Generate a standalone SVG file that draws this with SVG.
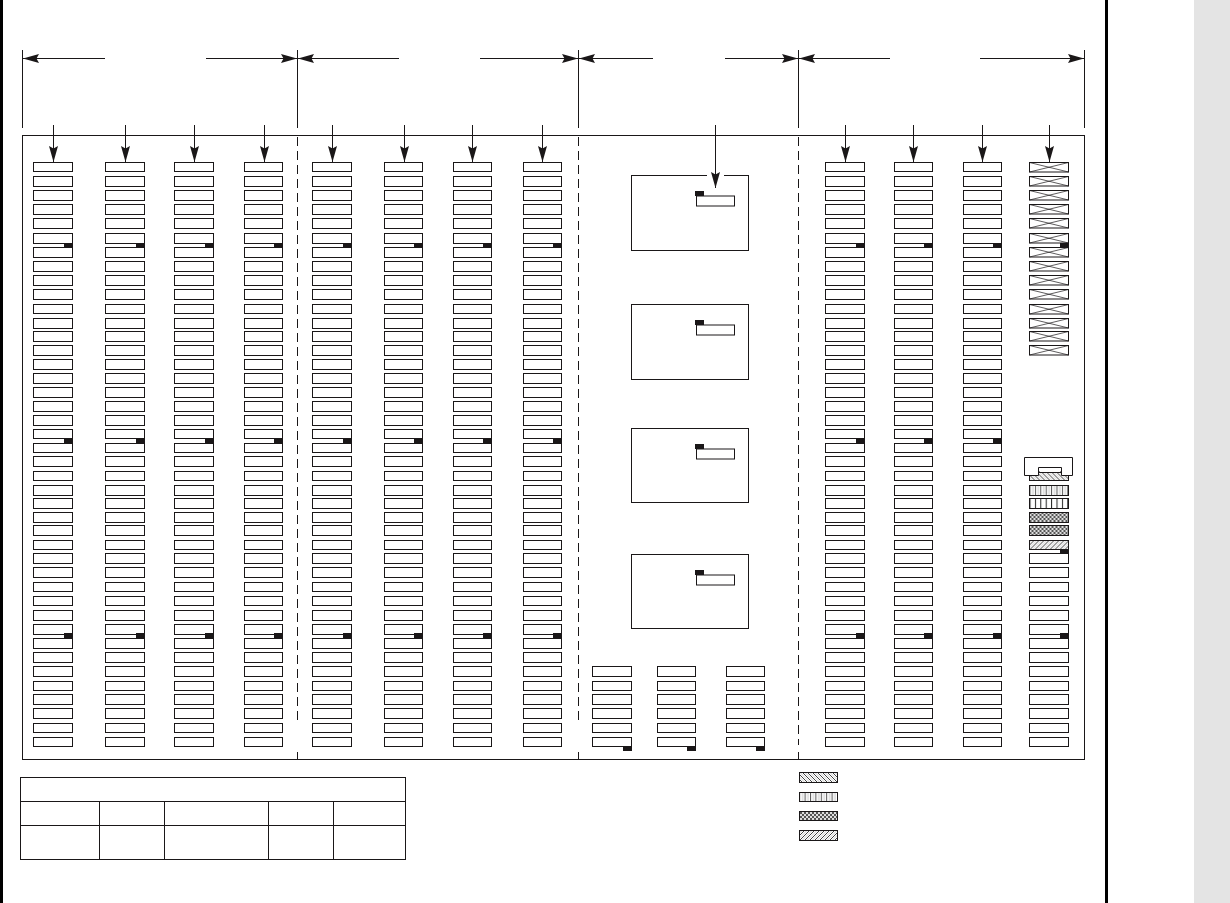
<svg xmlns="http://www.w3.org/2000/svg" width="1230" height="903" viewBox="0 0 1230 903">
<style>
.r{fill:#fff;stroke:#1a1718;stroke-width:1}
.c{width:var(--w,39px)}
.n{--w:38px}
.t{fill:#1a1718}
.b{x:calc(var(--w,39px) - 8.5px)}
.x{stroke:#1a1718;stroke-width:.7;fill:none}
.l{fill:none;stroke:#1a1718;stroke-width:1}
.d{fill:none;stroke:#1a1718;stroke-width:1;stroke-dasharray:9 5}
.a{fill:none;stroke:#1a1718;stroke-width:1;marker-end:url(#head)}
</style>
<defs>
<marker id="head" markerUnits="userSpaceOnUse" markerWidth="16" markerHeight="9" refX="16" refY="4.5" orient="auto"><path d="M0,0L16,4.5L0,9L2.5,4.5Z" fill="#1a1718"/></marker>
<pattern id="hb" width="5" height="5" patternUnits="userSpaceOnUse"><rect width="5" height="5" fill="#fff"/><path d="M-1,-1L6,6M-1,4L1,6M4,-1L6,1" stroke="#444" stroke-width="1"/><path d="M1.5,-1L6,3.5M-1,1.5L3.5,6" stroke="#bbb" stroke-width=".8"/></pattern>
<pattern id="hf" width="5" height="5" patternUnits="userSpaceOnUse"><rect width="5" height="5" fill="#fff"/><path d="M-1,6L6,-1M-1,1L1,-1M4,6L6,4" stroke="#444" stroke-width="1"/><path d="M-1,3.5L3.5,-1M1.5,6L6,1.5" stroke="#bbb" stroke-width=".8"/></pattern>
<pattern id="v1" width="5.4" height="10" patternUnits="userSpaceOnUse"><rect width="5.4" height="10" fill="#fff"/><rect x="0" width="1" height="10" fill="#555"/><rect x="2.4" width="2" height="10" fill="#e0e0e0"/></pattern>
<pattern id="v2" width="5.4" height="10" patternUnits="userSpaceOnUse"><rect width="5.4" height="10" fill="#fff"/><rect x="0" width="1" height="10" fill="#222"/></pattern>
<pattern id="c1" width="4" height="4" patternUnits="userSpaceOnUse"><rect width="4" height="4" fill="#ddd"/><rect width="2" height="2" fill="#555"/><rect x="2" y="2" width="2" height="2" fill="#555"/></pattern>
<g id="rows">
<rect class="r c" y="162.5" height="9"/><rect class="r c" y="176.5" height="10"/><rect class="r c" y="190.5" height="10"/><rect class="r c" y="204.5" height="10"/><rect class="r c" y="218.5" height="10"/><rect class="r c" y="233.5" height="10"/><rect class="r c" y="247.5" height="10"/>
<rect class="r c" y="261.5" height="10"/><rect class="r c" y="275.5" height="10"/><rect class="r c" y="289.5" height="10"/><rect class="r c" y="304.5" height="9"/><rect class="r c" y="318.5" height="10"/><rect class="r c" y="331.5" height="10"/><rect class="r c" y="345.5" height="10"/>
<rect class="r c" y="359.5" height="10"/><rect class="r c" y="373.5" height="10"/><rect class="r c" y="387.5" height="10"/><rect class="r c" y="401.5" height="10"/><rect class="r c" y="415.5" height="10"/><rect class="r c" y="429.5" height="9"/><rect class="r c" y="443.5" height="9"/><rect class="r c" y="456.5" height="10"/>
<rect class="r c" y="471.5" height="9"/><rect class="r c" y="485.5" height="10"/><rect class="r c" y="498.5" height="10"/><rect class="r c" y="512.5" height="10"/><rect class="r c" y="525.5" height="10"/><rect class="r c" y="540.5" height="9"/>
<g id="rows-low"><rect class="r c" y="553.5" height="10"/><rect class="r c" y="567.5" height="10"/><rect class="r c" y="582.5" height="9"/><rect class="r c" y="596.5" height="9"/><rect class="r c" y="610.5" height="10"/><rect class="r c" y="624.5" height="10"/><rect class="r c" y="638.5" height="10"/>
<rect class="r c" y="652.5" height="10"/><g id="rows-bot"><rect class="r c" y="666.5" height="10"/><rect class="r c" y="681.5" height="9"/><rect class="r c" y="694.5" height="10"/><rect class="r c" y="708.5" height="10"/><rect class="r c" y="723.5" height="9"/><rect class="r c" y="737.5" height="9"/></g></g>
</g>
<g id="column"><use href="#rows"/><rect class="t b" y="243" width="9" height="5"/><rect class="t b" y="438" width="9" height="5"/><rect class="t b" y="633" width="9" height="5"/></g>
<g id="xrow"><rect class="r" width="39" height="9.5"/><path class="x" d="M0,0L39,9.5M0,9.5L39,0"/></g>
<g id="inner"><rect class="r" x="696.5" y="20.5" width="38" height="10"/><rect class="t" x="695" y="15.5" width="9" height="5"/></g>
</defs>

<rect id="margin" x="1194" y="0" width="36" height="903" fill="#e4e4e4"/>
<rect id="bar-left" x="0" y="0" width="3" height="903" fill="#000"/>
<rect id="bar-right" x="1105" y="0" width="3" height="903" fill="#000"/>

<rect id="frame" class="l" x="22.5" y="135.5" width="1062" height="624"/>

<g id="col-1" transform="translate(33.5,0)"><use href="#column"/></g>
<g id="col-2" transform="translate(105.5,0)"><use href="#column"/></g>
<g id="col-3" transform="translate(174.5,0)"><use href="#column"/></g>
<g id="col-4" class="n" transform="translate(244.5,0)"><use href="#column"/></g>
<g id="col-5" transform="translate(312.5,0)"><use href="#column"/></g>
<g id="col-6" class="n" transform="translate(384.5,0)"><use href="#column"/></g>
<g id="col-7" class="n" transform="translate(453.5,0)"><use href="#column"/></g>
<g id="col-8" class="n" transform="translate(523.5,0)"><use href="#column"/></g>
<g id="col-9" transform="translate(825.5,0)"><use href="#column"/></g>
<g id="col-10" class="n" transform="translate(894.5,0)"><use href="#column"/></g>
<g id="col-11" class="n" transform="translate(963.5,0)"><use href="#column"/></g>

<g id="col-12" transform="translate(1029.5,0)">
<use href="#xrow" y="162.5"/><use href="#xrow" y="176.5"/><use href="#xrow" y="190.5"/><use href="#xrow" y="204.5"/><use href="#xrow" y="218.5"/><use href="#xrow" y="233.5"/><use href="#xrow" y="247.5"/><use href="#xrow" y="261.5"/><use href="#xrow" y="275.5"/><use href="#xrow" y="289.5"/><use href="#xrow" y="304.5"/><use href="#xrow" y="318.5"/><use href="#xrow" y="331.5"/><use href="#xrow" y="345.5"/>
<rect class="t" x="30.5" y="243" width="9" height="5"/>
<rect class="r" style="fill:url(#hb)" y="471.5" width="39" height="9"/>
<rect class="r" style="fill:url(#v1)" y="485.5" width="39" height="10"/>
<rect class="r" style="fill:url(#v2)" y="498.5" width="39" height="10"/>
<rect class="r" style="fill:url(#c1)" y="512.5" width="39" height="10"/>
<rect class="r" style="fill:url(#c1)" y="525.5" width="39" height="10"/>
<rect class="r" style="fill:url(#hf)" y="540.5" width="39" height="9"/>
<rect class="t" x="30.5" y="549" width="9" height="5"/>
<use href="#rows-low"/>
<rect class="t" x="30.5" y="633" width="9" height="5"/>
</g>
<g id="connector-part">
<path d="M1024.5,457.5H1072.5V475.5H1061.5V467.5H1038.5V475.5H1024.5Z" fill="#fff" stroke="#1a1718"/>
<rect x="1039.5" y="468" width="21" height="4" fill="#fff"/>
<path class="l" d="M1039,472.5H1061"/>
</g>

<g id="box-1"><rect class="r" x="631.5" y="175.5" width="117" height="75"/><use href="#inner" y="175.5"/></g>
<g id="box-2"><rect class="r" x="631.5" y="304.5" width="117" height="75"/><use href="#inner" y="304.5"/></g>
<g id="box-3"><rect class="r" x="631.5" y="428.5" width="117" height="74"/><use href="#inner" y="428.5"/></g>
<g id="box-4"><rect class="r" x="631.5" y="554.5" width="117" height="74"/><use href="#inner" y="554.5"/></g>
<rect id="box-1-gap" x="707" y="174" width="17" height="3" fill="#fff"/>

<g id="sub-1" transform="translate(592.5,0)"><use href="#rows-bot"/><rect class="t b" y="746" width="9" height="5"/></g>
<g id="sub-2" class="n" transform="translate(657.5,0)"><use href="#rows-bot"/><rect class="t b" y="746" width="9" height="5"/></g>
<g id="sub-3" class="n" transform="translate(726.5,0)"><use href="#rows-bot"/><rect class="t b" y="746" width="9" height="5"/></g>

<g id="connectors">
<path class="l" d="M22.5,50V128M297.5,50V128M578.5,50V128M798.5,50V128M1084.5,50V128"/>
<path class="d" d="M297.5,137V723M578.5,137V723M798.5,137V745"/>
<path class="l" d="M297.5,752V759M578.5,752V759M798.5,752V759"/>
<line class="a" x1="105" y1="58.5" x2="23" y2="58.5"/><line class="a" x1="206" y1="58.5" x2="297" y2="58.5"/>
<line class="a" x1="399" y1="58.5" x2="298" y2="58.5"/><line class="a" x1="480" y1="58.5" x2="578" y2="58.5"/>
<line class="a" x1="653" y1="58.5" x2="579" y2="58.5"/><line class="a" x1="725" y1="58.5" x2="798" y2="58.5"/>
<line class="a" x1="890" y1="58.5" x2="799" y2="58.5"/><line class="a" x1="980" y1="58.5" x2="1084" y2="58.5"/>
<line class="a" x1="53.5" y1="125" x2="53.5" y2="162"/><line class="a" x1="125.5" y1="125" x2="125.5" y2="162"/><line class="a" x1="194.5" y1="125" x2="194.5" y2="162"/><line class="a" x1="264.5" y1="125" x2="264.5" y2="162"/>
<line class="a" x1="332.5" y1="125" x2="332.5" y2="162"/><line class="a" x1="404.5" y1="125" x2="404.5" y2="162"/><line class="a" x1="472.5" y1="125" x2="472.5" y2="162"/><line class="a" x1="542.5" y1="125" x2="542.5" y2="162"/>
<line class="a" x1="715.5" y1="125" x2="715.5" y2="188"/>
<line class="a" x1="845.5" y1="125" x2="845.5" y2="162"/><line class="a" x1="913.5" y1="125" x2="913.5" y2="162"/><line class="a" x1="982.5" y1="125" x2="982.5" y2="162"/><line class="a" x1="1049.5" y1="125" x2="1049.5" y2="162"/>
</g>

<g id="table">
<rect class="l" x="20.5" y="777.5" width="385" height="82"/>
<path class="l" d="M20.5,801.5H405.5M20.5,825.5H405.5M99.5,801.5V859.5M164.5,801.5V859.5M268.5,801.5V859.5M333.5,801.5V859.5"/>
</g>

<g id="legend">
<rect id="legend-1" class="r" style="fill:url(#hb)" x="799.5" y="772.5" width="38" height="10"/>
<rect id="legend-2" class="r" style="fill:url(#v1)" x="799.5" y="792.5" width="38" height="9"/>
<rect id="legend-3" class="r" style="fill:url(#c1)" x="799.5" y="811.5" width="38" height="9"/>
<rect id="legend-4" class="r" style="fill:url(#hf)" x="799.5" y="830.5" width="38" height="10"/>
</g>
</svg>
